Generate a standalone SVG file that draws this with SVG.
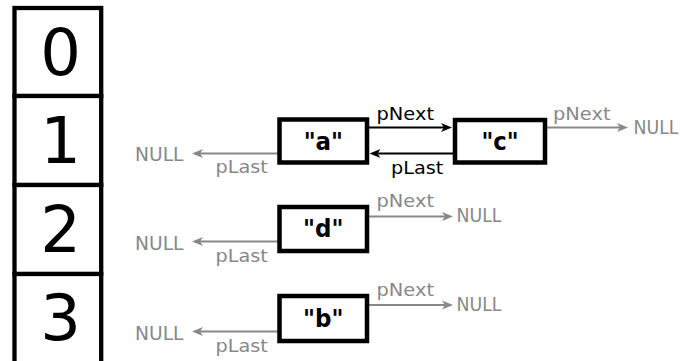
<svg xmlns="http://www.w3.org/2000/svg" width="684" height="361" viewBox="0 0 684 361">
  <style>
    .cell { fill: #fff; stroke: #000; stroke-width: 4.3; }
    .idx { font-family: "DejaVu Sans", sans-serif; font-size: 64px; fill: #000; text-anchor: middle; }
    .box { fill: #fff; stroke: #000; stroke-width: 4.5; }
    .val { font-family: "DejaVu Sans", sans-serif; font-weight: bold; font-size: 24px; fill: #000; text-anchor: middle; }
    .lbl { font-family: "DejaVu Sans", sans-serif; font-size: 17.5px; }
    .null { font-family: "DejaVu Sans", sans-serif; font-size: 19px; fill: #888; }
    .gray { fill: #888; }
    .black { fill: #000; }
    .ln-gray { stroke: #888; stroke-width: 2; fill: none; marker-end: url(#headGray); }
    .ln-black { stroke: #000; stroke-width: 2; fill: none; marker-end: url(#headBlack); }
  </style>
  <defs>
    <marker id="headGray" markerUnits="userSpaceOnUse" viewBox="-4 -6 14 12" refX="0" refY="0" markerWidth="14" markerHeight="12" orient="auto">
      <path d="M-3,-4.5 L8,0 L-3,4.5 L0,0 Z" fill="#888"/>
    </marker>
    <marker id="headBlack" markerUnits="userSpaceOnUse" viewBox="-4 -6 14 12" refX="0" refY="0" markerWidth="14" markerHeight="12" orient="auto">
      <path d="M-3,-4.5 L8,0 L-3,4.5 L0,0 Z" fill="#000"/>
    </marker>
  </defs>

  <!-- hash table slots -->
  <g id="table">
    <rect class="cell" x="14.5" y="8" width="86.7" height="88"/>
    <rect class="cell" x="14.5" y="96" width="86.7" height="89"/>
    <rect class="cell" x="14.5" y="185" width="86.7" height="89"/>
    <rect class="cell" x="14.5" y="274" width="86.7" height="100"/>
    <text class="idx" x="60.7" y="75">0</text>
    <text class="idx" x="60.7" y="163">1</text>
    <text class="idx" x="60.7" y="252">2</text>
    <text class="idx" x="60.7" y="340">3</text>
  </g>

  <!-- list links -->
  <g id="connectors">
    <path class="ln-gray" d="M279.5,153.5 H200"/>
    <path class="ln-black" d="M367.5,127.5 H444"/>
    <path class="ln-black" d="M455,153.5 H377.5"/>
    <path class="ln-gray" d="M545,127.5 H620"/>
    <path class="ln-gray" d="M367.5,216.5 H445"/>
    <path class="ln-gray" d="M279.5,241.5 H200"/>
    <path class="ln-gray" d="M367.5,305 H445"/>
    <path class="ln-gray" d="M279.5,331.5 H200"/>

    <text class="lbl black" x="376.5" y="120" textLength="57.5" lengthAdjust="spacingAndGlyphs">pNext</text>
    <text class="lbl black" x="391" y="174" textLength="52.3" lengthAdjust="spacingAndGlyphs">pLast</text>
    <text class="lbl gray" x="553" y="119.5" textLength="57.5" lengthAdjust="spacingAndGlyphs">pNext</text>
    <text class="lbl gray" x="215.5" y="173" textLength="52.3" lengthAdjust="spacingAndGlyphs">pLast</text>
    <text class="null" x="135" y="161" textLength="48.5" lengthAdjust="spacingAndGlyphs">NULL</text>
    <text class="null" x="633.5" y="133.5" textLength="45" lengthAdjust="spacingAndGlyphs">NULL</text>

    <text class="lbl gray" x="376.5" y="207" textLength="57.5" lengthAdjust="spacingAndGlyphs">pNext</text>
    <text class="lbl gray" x="215.5" y="262" textLength="52.3" lengthAdjust="spacingAndGlyphs">pLast</text>
    <text class="null" x="456.5" y="222" textLength="45" lengthAdjust="spacingAndGlyphs">NULL</text>
    <text class="null" x="135" y="249.5" textLength="48.5" lengthAdjust="spacingAndGlyphs">NULL</text>

    <text class="lbl gray" x="376.5" y="296" textLength="57.5" lengthAdjust="spacingAndGlyphs">pNext</text>
    <text class="lbl gray" x="215.5" y="352" textLength="52.3" lengthAdjust="spacingAndGlyphs">pLast</text>
    <text class="null" x="456.5" y="310.5" textLength="45" lengthAdjust="spacingAndGlyphs">NULL</text>
    <text class="null" x="135" y="339.5" textLength="48.5" lengthAdjust="spacingAndGlyphs">NULL</text>
  </g>

  <!-- list nodes -->
  <g id="node-a">
    <rect class="box" x="279.5" y="119.5" width="87.5" height="43"/>
    <text class="val" x="323.3" y="149.5" textLength="39.3" lengthAdjust="spacingAndGlyphs">"a"</text>
  </g>
  <g id="node-c">
    <rect class="box" x="455" y="120" width="90" height="42.5"/>
    <text class="val" x="500" y="150" textLength="37.2" lengthAdjust="spacingAndGlyphs">"c"</text>
  </g>
  <g id="node-d">
    <rect class="box" x="279.5" y="207" width="87.5" height="44"/>
    <text class="val" x="323.3" y="237" textLength="40.4" lengthAdjust="spacingAndGlyphs">"d"</text>
  </g>
  <g id="node-b">
    <rect class="box" x="279.5" y="296" width="87.5" height="45"/>
    <text class="val" x="323.3" y="327" textLength="40.4" lengthAdjust="spacingAndGlyphs">"b"</text>
  </g>
</svg>
